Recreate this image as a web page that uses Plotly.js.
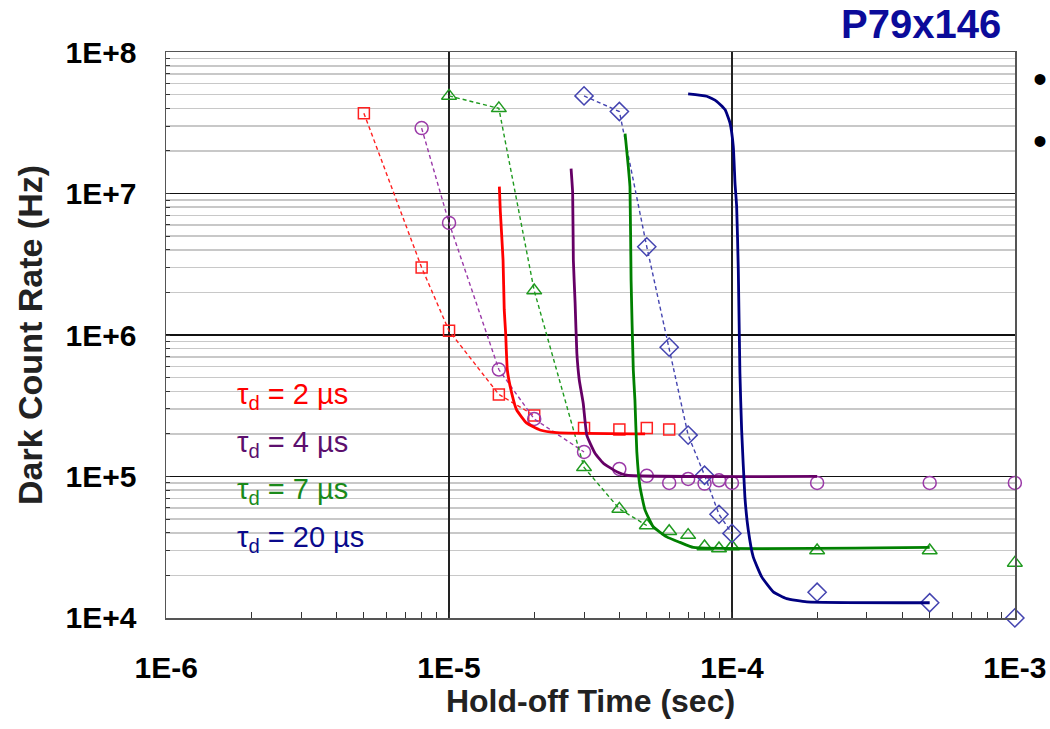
<!DOCTYPE html>
<html>
<head>
<meta charset="utf-8">
<script src="https://cdn.plot.ly/plotly-3.0.1.min.js"></script>
<style>html,body{margin:0;padding:0;background:#fff;}#chart{width:1050px;height:729px;}</style>
</head>
<body>
<div id="chart"></div>
<script>
// ---- data ----
const xTickVals = [1e-6, 1e-5, 1e-4, 1e-3];
const xTickText = ["1E-6", "1E-5", "1E-4", "1E-3"];
const yTickVals = [1e4, 1e5, 1e6, 1e7, 1e8];
const yTickText = ["1E+4", "1E+5", "1E+6", "1E+7", "1E+8"];

const seriesNames = ["τ<sub>d</sub> = 2 µs", "τ<sub>d</sub> = 4 µs", "τ<sub>d</sub> = 7 µs", "τ<sub>d</sub> = 20 µs"];

// measured points (markers); the first nJoined of each series are joined by a dashed line
const xRed = [5e-6, 8e-6, 1e-5, 1.5e-5, 2e-5, 3e-5, 4e-5, 5e-5, 6e-5];
const yRed = [3.7e7, 3.0e6, 1.07e6, 3.8e5, 2.7e5, 2.2e5, 2.15e5, 2.2e5, 2.15e5];

const xPurple = [8e-6, 1e-5, 1.5e-5, 2e-5, 3e-5, 4e-5, 5e-5, 6e-5, 7e-5, 8e-5, 9e-5, 1e-4, 2e-4, 5e-4, 1e-3];
const yPurple = [2.9e7, 6.2e6, 5.7e5, 2.55e5, 1.49e5, 1.13e5, 1.01e5, 9.0e4, 9.6e4, 8.9e4, 9.4e4, 9.0e4, 9.0e4, 9.0e4, 9.0e4];

const xGreen = [1e-5, 1.5e-5, 2e-5, 3e-5, 4e-5, 5e-5, 6e-5, 7e-5, 8e-5, 9e-5, 1e-4, 2e-4, 5e-4, 1e-3];
const yGreen = [4.9e7, 4.0e7, 2.06e6, 1.16e5, 5.9e4, 4.5e4, 4.1e4, 3.85e4, 3.2e4, 3.1e4, 3.2e4, 3.0e4, 3.0e4, 2.45e4];

const xBlue = [3e-5, 4e-5, 5e-5, 6e-5, 7e-5, 8e-5, 9e-5, 1e-4, 2e-4, 5e-4, 1e-3];
const yBlue = [4.9e7, 3.8e7, 4.2e6, 8.2e5, 1.96e5, 1.02e5, 5.4e4, 3.96e4, 1.52e4, 1.28e4, 1.0e4];

const nJoined = [5, 5, 6, 8];

// model curves (solid lines)
const xRedFit = [1.506e-5, 1.518e-5, 1.552e-5, 1.567e-5, 1.585e-5, 1.607e-5, 1.666e-5, 1.734e-5, 1.882e-5, 2.097e-5, 2.402e-5, 4.93e-5];
const yRedFit = [1.12e7, 7.47e6, 3.40e6, 1.51e6, 1.03e6, 5.66e5, 3.87e5, 2.95e5, 2.38e5, 2.13e5, 2.04e5, 2.0e5];

const xPurpleFit = [2.70e-5, 2.735e-5, 2.75e-5, 2.79e-5, 2.83e-5, 2.886e-5, 2.98e-5, 3.07e-5, 3.28e-5, 3.51e-5, 3.914e-5, 4.246e-5, 2.0e-4];
const yPurpleFit = [1.50e7, 1.01e7, 3.40e6, 1.68e6, 7.43e5, 4.81e5, 3.29e5, 1.95e5, 1.46e5, 1.24e5, 1.08e5, 1.02e5, 1.0e5];

const xGreenFit = [4.19e-5, 4.30e-5, 4.36e-5, 4.40e-5, 4.48e-5, 4.54e-5, 4.61e-5, 4.73e-5, 4.93e-5, 5.27e-5, 5.88e-5, 6.55e-5, 7.3e-5, 5e-4];
const yGreenFit = [2.65e7, 1.56e7, 1.12e7, 2.45e6, 5.66e5, 3.47e5, 1.5e5, 8.45e4, 5.78e4, 4.41e4, 3.74e4, 3.42e4, 3.15e4, 3.15e4];

const xBlueFit = [7.0e-5, 8.14e-5, 8.83e-5, 9.45e-5, 9.84e-5, 1.011e-4, 1.025e-4, 1.039e-4, 1.053e-4, 1.067e-4, 1.082e-4, 1.111e-4, 1.142e-4, 1.189e-4, 1.274e-4, 1.40e-4, 1.56e-4, 1.84e-4, 5e-4];
const yBlueFit = [5.06e7, 4.87e7, 4.49e7, 3.92e7, 3.16e7, 2.15e7, 1.19e7, 8.1e6, 2.89e6, 5.37e5, 2.13e5, 7.18e4, 4.18e4, 2.7e4, 1.95e4, 1.53e4, 1.37e4, 1.30e4, 1.28e4];

// ---- styles ----
const fitColors = ["#ff0000", "#660066", "#008000", "#000080"];
const markColors = ["#ff2020", "#9b3aa8", "#1f9a1f", "#4444b0"];
const symbols = ["square-open", "circle-open", "triangle-up-open", "diamond-open"];
const msizes = [11, 13, 13, 14];
const textColors = ["#ff0000", "#5c0f6e", "#1a8a1a", "#0a0a8c"];

const pts = [[xRed, yRed], [xPurple, yPurple], [xGreen, yGreen], [xBlue, yBlue]];
const fits = [[xRedFit, yRedFit], [xPurpleFit, yPurpleFit], [xGreenFit, yGreenFit], [xBlueFit, yBlueFit]];

const traces = [];
pts.forEach((p, i) => {
  traces.push({
    x: p[0].slice(0, nJoined[i]), y: p[1].slice(0, nJoined[i]), type: "scatter", mode: "lines",
    line: {color: markColors[i], width: 1.4, dash: "4px,3px"},
    hoverinfo: "skip"
  });
  traces.push({
    x: p[0], y: p[1], type: "scatter", mode: "markers", cliponaxis: false,
    marker: {symbol: symbols[i], size: msizes[i], color: markColors[i], line: {width: 1.5, color: markColors[i]}},
    hoverinfo: "skip"
  });
});
fits.forEach((f, i) => {
  traces.push({
    x: f[0], y: f[1], type: "scatter", mode: "lines",
    line: {color: fitColors[i], width: 2.8, shape: "spline", smoothing: 0.4},
    hoverinfo: "skip"
  });
});

const FONT = "Liberation Sans, Arial, sans-serif";

const annotations = seriesNames.map((t, i) => ({
  xref: "paper", yref: "paper", x: 0.0813, y: [0.393, 0.307, 0.225, 0.139][i],
  xanchor: "left", yanchor: "middle", showarrow: false, text: t,
  font: {family: FONT, size: 29, color: textColors[i]}
}));
annotations.push({
  xref: "paper", yref: "paper", x: 0.889, y: 1.0, xanchor: "center", yanchor: "bottom",
  yshift: 4, showarrow: false, text: "<b>P79x146</b>",
  font: {family: FONT, size: 40, color: "#0b0b9a"}
});
[0.952, 0.842].forEach(yy => annotations.push({
  xref: "paper", yref: "paper", x: 1.0295, y: yy, xanchor: "center", yanchor: "middle",
  showarrow: false, text: "•", font: {family: FONT, size: 40, color: "#000"}
}));

const layout = {
  width: 1050, height: 729,
  margin: {l: 166, r: 35, t: 52, b: 111},
  paper_bgcolor: "#fff", plot_bgcolor: "#fff",
  showlegend: false,
  font: {family: FONT, color: "#000"},
  xaxis: {
    type: "log", range: [-6.0005, -2.9995], autorange: false,
    tickmode: "array", tickvals: xTickVals, ticktext: xTickText,
    tickfont: {family: FONT, size: 30, weight: "bold", color: "#000"},
    ticks: "inside", ticklen: 6, tickcolor: "#333", ticklabelstandoff: 22,
    showgrid: true, gridcolor: "#222", gridwidth: 1.3,
    minor: {dtick: "D1", ticks: "inside", ticklen: 6, tickcolor: "#333", showgrid: false},
    showline: true, linecolor: "#555", linewidth: 1.5, mirror: true,
    zeroline: false, automargin: false,
    title: {text: "<b>Hold-off Time (sec)</b>", font: {family: FONT, size: 32, color: "#222"}, standoff: 4}
  },
  yaxis: {
    type: "log", range: [3.9995, 8.0005], autorange: false,
    tickmode: "array", tickvals: yTickVals, ticktext: yTickText,
    tickfont: {family: FONT, size: 30, weight: "bold", color: "#000"},
    ticks: "inside", ticklen: 4, tickcolor: "#333", ticklabelstandoff: 22,
    showgrid: true, gridcolor: "#111", gridwidth: 1.6,
    minor: {dtick: "D1", ticks: "inside", ticklen: 4, tickcolor: "#333", showgrid: true, gridcolor: "#c8c8c8", gridwidth: 1.5},
    showline: true, linecolor: "#555", linewidth: 1.5, mirror: true,
    zeroline: false, automargin: false,
    title: {text: "<b>Dark Count Rate (Hz)</b>", font: {family: FONT, size: 34, color: "#222"}, standoff: 12}
  },
  shapes: [{
    type: "rect", xref: "paper", yref: "paper", x0: 0.067, x1: 0.265, y0: 0.093, y1: 0.458,
    fillcolor: "#fff", line: {width: 0}, layer: "between"
  }],
  annotations: annotations
};

Plotly.newPlot("chart", traces, layout, {staticPlot: true, displayModeBar: false});
</script>
</body>
</html>
